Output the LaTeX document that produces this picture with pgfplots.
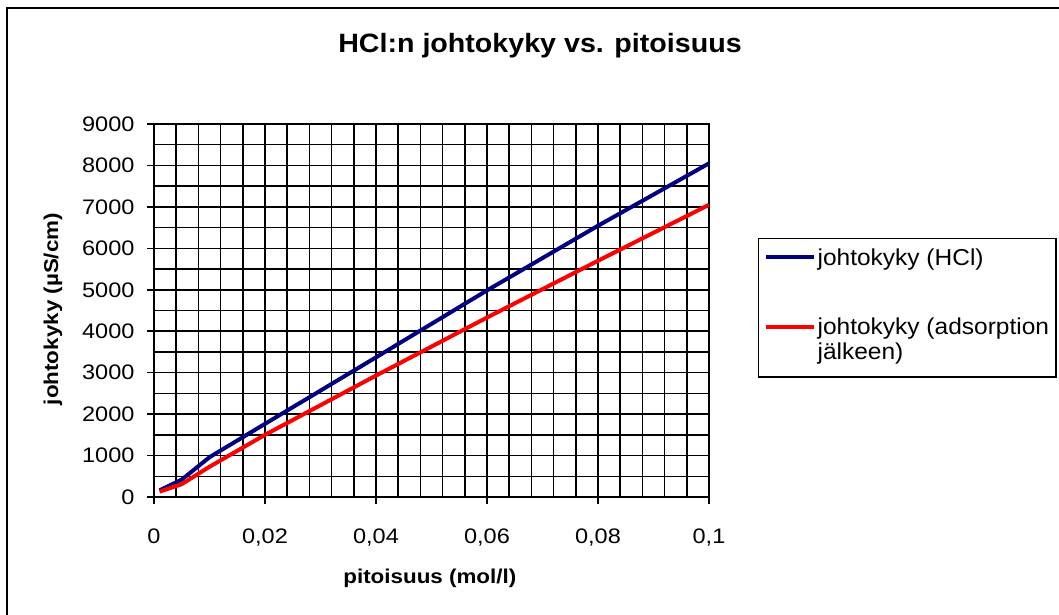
\documentclass[border=0pt]{standalone}
\usepackage{pgfplots}
\pgfplotsset{compat=1.18}
\usepackage{fontspec}
\setmainfont{Liberation Sans}
\newfontfamily\tickf{Liberation Sans}[FakeStretch=1.12]
\newfontfamily\titf{Liberation Sans}[FakeStretch=1.08]
\newfontfamily\legf{Liberation Sans}[FakeStretch=1.065]
\definecolor{navy}{RGB}{0,0,128}
\definecolor{pred}{RGB}{255,0,0}
\begin{document}
\begin{tikzpicture}
\useasboundingbox (0pt,0pt) rectangle (1059pt,614pt);
\fill[white] (0pt,0pt) rectangle (1059pt,614pt);
\draw[line width=2pt] (7pt,-10pt) -- (7pt,606pt) -- (1070pt,606pt);
\begin{axis}[
  at={(154pt,117pt)}, anchor=south west,
  scale only axis, width=555pt, height=373pt,
  xmin=0, xmax=0.1, ymin=0, ymax=9000,
  xtick={0,0.02,0.04,0.06,0.08,0.1},
  xticklabels={0,{0,02},{0,04},{0,06},{0,08},{0,1}},
  ytick={0,1000,2000,3000,4000,5000,6000,7000,8000,9000},
  yticklabels={0,1000,2000,3000,4000,5000,6000,7000,8000,9000},
  minor x tick num=4, minor y tick num=1,
  grid=both,
  major grid style={black, line width=1.5pt},
  minor grid style={black, line width=1.5pt},
  axis line style={black, line width=1.5pt},
  tick style={black, line width=1.5pt},
  tick align=outside,
  major tick length=7pt, minor tick length=0pt,
  xtick pos=bottom, ytick pos=left,
  xticklabel style={font=\tickf\fontsize{21}{25}\selectfont, yshift=-21pt},
  yticklabel style={font=\tickf\fontsize{21}{25}\selectfont, xshift=-9pt},
  title={HCl:n johtokyky vs. pitoisuus},
  title style={font=\titf\bfseries\fontsize{26.5}{30}\selectfont, at={(axis description cs:0.6955,1.193)}, anchor=center},
  xlabel={pitoisuus (mol/l)},
  xlabel style={font=\tickf\bfseries\fontsize{20}{24}\selectfont, at={(axis description cs:0.497,-0.217)}, anchor=center},
  ylabel={johtokyky (µS/cm)},
  ylabel style={font=\tickf\bfseries\fontsize{20}{24}\selectfont, at={(axis description cs:-0.182,0.504)}, anchor=center},
  legend style={at={(axis description cs:1.0883,0.6944)}, anchor=north west,
    draw=black, line width=1.2pt, fill=white, inner xsep=5pt, inner ysep=8pt,
    nodes={inner sep=2pt, text depth=},
    row sep=43pt, font=\legf\fontsize{23}{25}\selectfont, cells={anchor=base west}},
  legend image code/.code={\path (0pt,0pt); \draw[#1, line width=4pt] (0pt,8pt) -- (48pt,8pt);},
]
\addplot[color=navy, line width=4pt] coordinates {
 (0.001,160) (0.005,420) (0.01,960) (0.02,1765) (0.04,3370) (0.06,4985) (0.08,6545) (0.1,8050)
};
\addlegendentry{johtokyky (HCl)}
\addplot[color=pred, line width=4pt] coordinates {
 (0.001,130) (0.005,310) (0.01,730) (0.02,1500) (0.04,2930) (0.06,4330) (0.08,5700) (0.1,7050)
};
\addlegendentry{\begin{tabular}[t]{@{}l@{}}johtokyky (adsorption\\jälkeen)\end{tabular}}
\end{axis}
\end{tikzpicture}
\end{document}
